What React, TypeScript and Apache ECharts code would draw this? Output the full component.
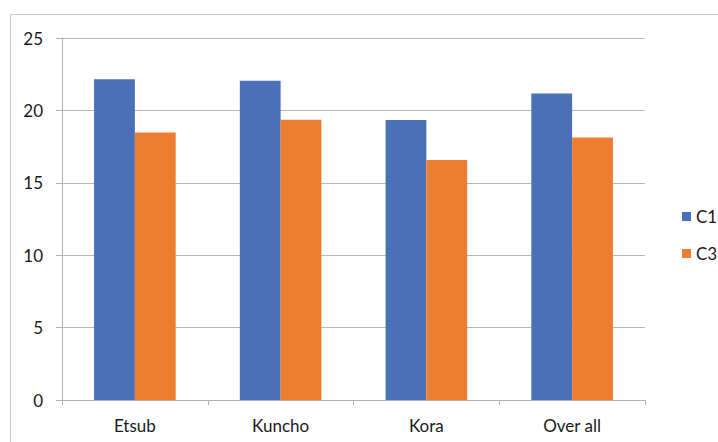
import React, { useEffect, useRef } from "react";
import * as echarts from "echarts";

const categories = ["Etsub", "Kuncho", "Kora", "Over all"];
const c1Values = [22.15, 22.05, 19.33, 21.17];
const c3Values = [18.48, 19.36, 16.57, 18.13];
const seriesNames = ["C1", "C3"];
const colors = ["#4A71B8", "#ED7D31"];

export default function App() {
  const ref = useRef<HTMLDivElement>(null);
  useEffect(() => {
    if (!ref.current) return;
    const chart = echarts.init(ref.current, null, { renderer: "svg" });
    const font = "Lato, Open Sans, sans-serif";
    chart.setOption({
      animation: false,
      backgroundColor: "#ffffff",
      textStyle: { fontFamily: font },
      graphic: [
        {
          type: "rect",
          shape: { x: 10.5, y: 14.5, width: 740, height: 460 },
          style: { fill: "none", stroke: "#c8c8c8", lineWidth: 1 },
          silent: true,
        },
      ],
      grid: { left: 62, right: 73, top: 38, bottom: 42 },
      legend: {
        orient: "vertical",
        left: 677,
        top: 203,
        itemWidth: 9,
        itemHeight: 9,
        itemGap: 20,
        icon: "rect",
        textStyle: { fontSize: 17, color: "#1a1a1a", fontFamily: font },
        data: seriesNames,
      },
      xAxis: {
        type: "category",
        data: categories,
        axisLine: { lineStyle: { color: "#b0b0b0", width: 1 } },
        axisTick: { show: true, length: 5, lineStyle: { color: "#b0b0b0" } },
        axisLabel: { fontSize: 17, color: "#1a1a1a", margin: 17, fontFamily: font },
      },
      yAxis: {
        type: "value",
        min: 0,
        max: 25,
        interval: 5,
        axisLine: { show: true, lineStyle: { color: "#b0b0b0", width: 1 } },
        axisTick: { show: true, length: 6, lineStyle: { color: "#b0b0b0" } },
        axisLabel: { fontSize: 17, color: "#1a1a1a", margin: 19, fontFamily: font },
        splitLine: { lineStyle: { color: "#b8b8b8", width: 1 } },
      },
      series: [
        {
          name: seriesNames[0],
          type: "bar",
          data: c1Values,
          itemStyle: { color: colors[0] },
          barGap: "0%",
          barCategoryGap: "44%",
        },
        {
          name: seriesNames[1],
          type: "bar",
          data: c3Values,
          itemStyle: { color: colors[1] },
          barGap: "0%",
          barCategoryGap: "44%",
        },
      ],
    });
    return () => chart.dispose();
  }, []);
  return (
    <div
      ref={ref}
      style={{ position: "fixed", left: 0, top: 0, width: 718, height: 442 }}
    />
  );
}
